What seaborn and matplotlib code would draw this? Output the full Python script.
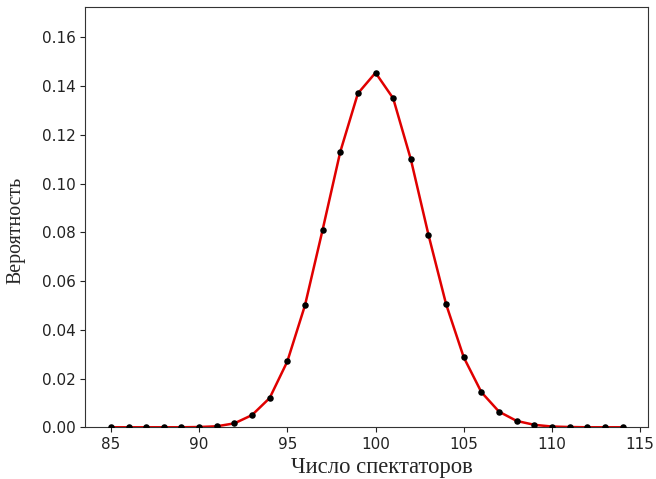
import numpy as np
import pandas as pd
import matplotlib
matplotlib.use('Agg')
import matplotlib.pyplot as plt
import seaborn as sns

# число спектаторов и вероятности
spectators = list(range(85, 115))
probability = [0.0, 0.0, 0.0, 0.0, 0.0, 0.0001, 0.0004, 0.0016, 0.0050, 0.0120,
               0.0270, 0.0500, 0.0810, 0.1130, 0.1370, 0.1455, 0.1350, 0.1100,
               0.0790, 0.0505, 0.0287, 0.0144, 0.0064, 0.0026, 0.0010, 0.0003,
               0.0001, 0.0, 0.0, 0.0]

xlabel = 'Число спектаторов'
ylabel = 'Вероятность'

df = pd.DataFrame({'x': spectators, 'p': probability})

sns.set_style('ticks')
plt.rcParams['font.family'] = ['DejaVu Sans']

fig, ax = plt.subplots(figsize=(6.56, 4.79), dpi=100)
fig.subplots_adjust(left=0.13, right=0.988, top=0.985, bottom=0.108)

sns.lineplot(data=df, x='x', y='p', color='#e00000', linewidth=1.8, ax=ax)
sns.scatterplot(data=df, x='x', y='p', color='black', s=22, edgecolor='black',
                linewidth=0, zorder=3, ax=ax)

ax.set_ylim(0, 0.1724)
ax.set_yticks(np.arange(0, 0.17, 0.02))
ax.set_xticks(np.arange(85, 116, 5))
ax.tick_params(labelsize=11, colors='#222222')
for s in ax.spines.values():
    s.set_visible(True)
    s.set_color('#333333')

ax.set_xlabel(xlabel, family='Liberation Serif', fontsize=16.3)
ax.set_ylabel(ylabel, family='Liberation Serif', fontsize=14.3)
ax.xaxis.set_label_coords(0.527, -0.07)
ax.yaxis.set_label_coords(-0.107, 0.469)

fig.savefig('out.png', dpi=100)
